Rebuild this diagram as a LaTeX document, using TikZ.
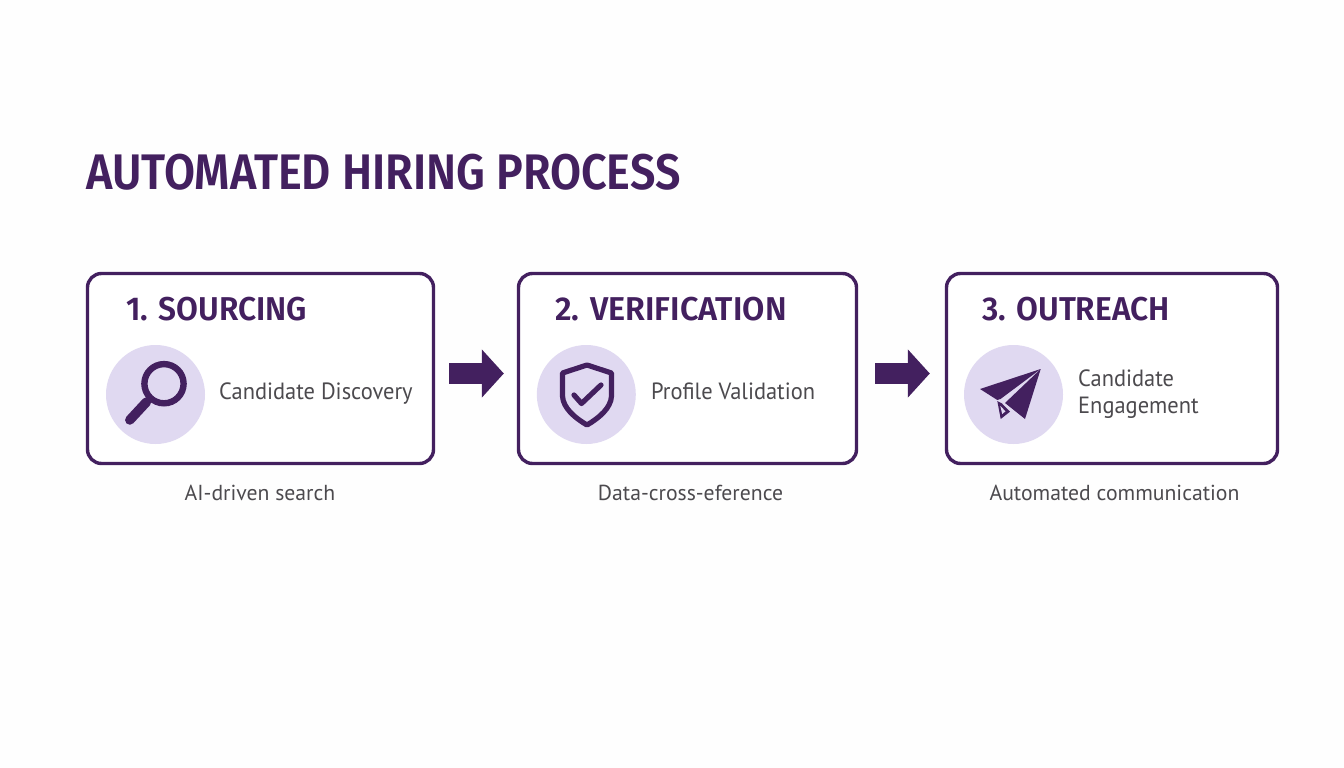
\documentclass[tikz,border=0pt]{standalone}
\usepackage{fontspec}
\setmainfont{Fira Sans}
\newfontfamily\titlefont{Fira Sans}[UprightFont=*-SemiBold,FakeStretch=0.9]
\newfontfamily\headfont{Fira Sans}[UprightFont=*-SemiBold,FakeStretch=0.96]
\newfontfamily\headwidefont{Fira Sans}[UprightFont=*-SemiBold,FakeStretch=0.98]
\newfontfamily\bodyfont{PT Sans}[FakeStretch=0.955]
\newfontfamily\capfont{PT Sans}[FakeStretch=1.0]
\usetikzlibrary{arrows.meta,calc}
\definecolor{plum}{HTML}{43205F}
\definecolor{lilac}{HTML}{E0D9F1}
\definecolor{bodygrey}{HTML}{4C4A4E}
\tikzset{
  x=1pt,y=-1pt,
  stepbox/.style={draw=plum,line width=3.4pt,rounded corners=14pt,fill=white,minimum height=190pt,inner sep=0pt},
  badge/.style={circle,fill=lilac,minimum size=99pt,inner sep=0pt},
  heading/.style={anchor=base west,inner sep=0pt,text=plum,font=\headfont\fontsize{33}{36}\selectfont},
  bodytext/.style={anchor=west,inner sep=0pt,text=bodygrey,align=left,font=\bodyfont\fontsize{23.5}{27}\selectfont},
  caption/.style={anchor=center,inner sep=0pt,text=bodygrey,font=\capfont\fontsize{21.7}{24}\selectfont},
  flow/.style={draw=plum,line width=21pt,-{Triangle[length=22pt,width=47pt]}},
  iconline/.style={draw=plum,line width=5.2pt,line join=round},
}
\begin{document}
\begin{tikzpicture}
\useasboundingbox (0,0) rectangle (1344,768);
\fill[white!99.5!black] (0,0) rectangle (1344,768);

\node[anchor=base west,inner sep=0pt,text=plum,font=\titlefont\fontsize{50}{54}\selectfont] (title) at (86,189.5) {AUTOMATED HIRING PROCESS};

\node[stepbox,minimum width=346pt] (box1) at (260.5,368.5) {};
\node[stepbox,minimum width=338pt] (box2) at (687.5,368.5) {};
\node[stepbox,minimum width=331pt] (box3) at (1112,368.5) {};

\node[heading] (h1) at (126,320) {1. SOURCING};
\node[heading,font=\headwidefont\fontsize{33}{36}\selectfont] (h2) at (555,320) {2. VERIFICATION};
\node[heading] (h3) at (982,320) {3. OUTREACH};

\node[badge] (c1) at (155.5,394.5) {};
\node[badge] (c2) at (586.3,394.5) {};
\node[badge] (c3) at (1013.5,394.5) {};

\node[bodytext] (t1) at (219,394) {Candidate Discovery};
\node[bodytext] (t2) at (651,391) {Profile Validation};
\node[bodytext] (t3) at (1078,394.5) {Candidate\\Engagement};

\node[caption] (s1) at (260,493) {AI-driven search};
\node[caption] (s2) at (690.5,493) {Data-cross-eference};
\node[caption] (s3) at (1114.5,493) {Automated communication};

\draw[flow,shorten <=14pt,shorten >=13pt] ([yshift=-5pt]box1.east) -- ([yshift=-5pt]box2.west);
\draw[flow,shorten <=17pt,shorten >=15pt] ([yshift=-5pt]box2.east) -- ([yshift=-5pt]box3.west);

% magnifier
\draw[draw=plum,line width=6.4pt] (164,383.7) circle (19.6);
\draw[draw=plum,line width=4.5pt] (149,399) -- (146,402);
\draw[draw=plum,line width=9.5pt,line cap=round] (146.5,402) -- (129.8,420);

% shield
\draw[iconline] (587,365) -- (562.5,373) -- (562.5,396) .. controls (563,408) and (575,418) .. (587,425)
  .. controls (599,418) and (611,408) .. (611.5,396) -- (611.5,373) -- cycle;
\draw[iconline,line cap=round] (574,395) -- (581.5,403.5) -- (601,385);

% paper plane
\fill[plum] (1040.7,369) -- (980,389) -- (997.3,400) -- (1000.5,399) -- cycle;
\fill[plum] (1040.7,369) -- (1025,419) -- (1005,403) -- cycle;
\fill[plum] (997.3,401) -- (1000.7,419) -- (1010,411.7) -- (1002,403.5) -- cycle;
\fill[lilac] (1000.3,406) -- (1002.2,414) -- (1005.5,411.3) -- cycle;
\end{tikzpicture}
\end{document}
